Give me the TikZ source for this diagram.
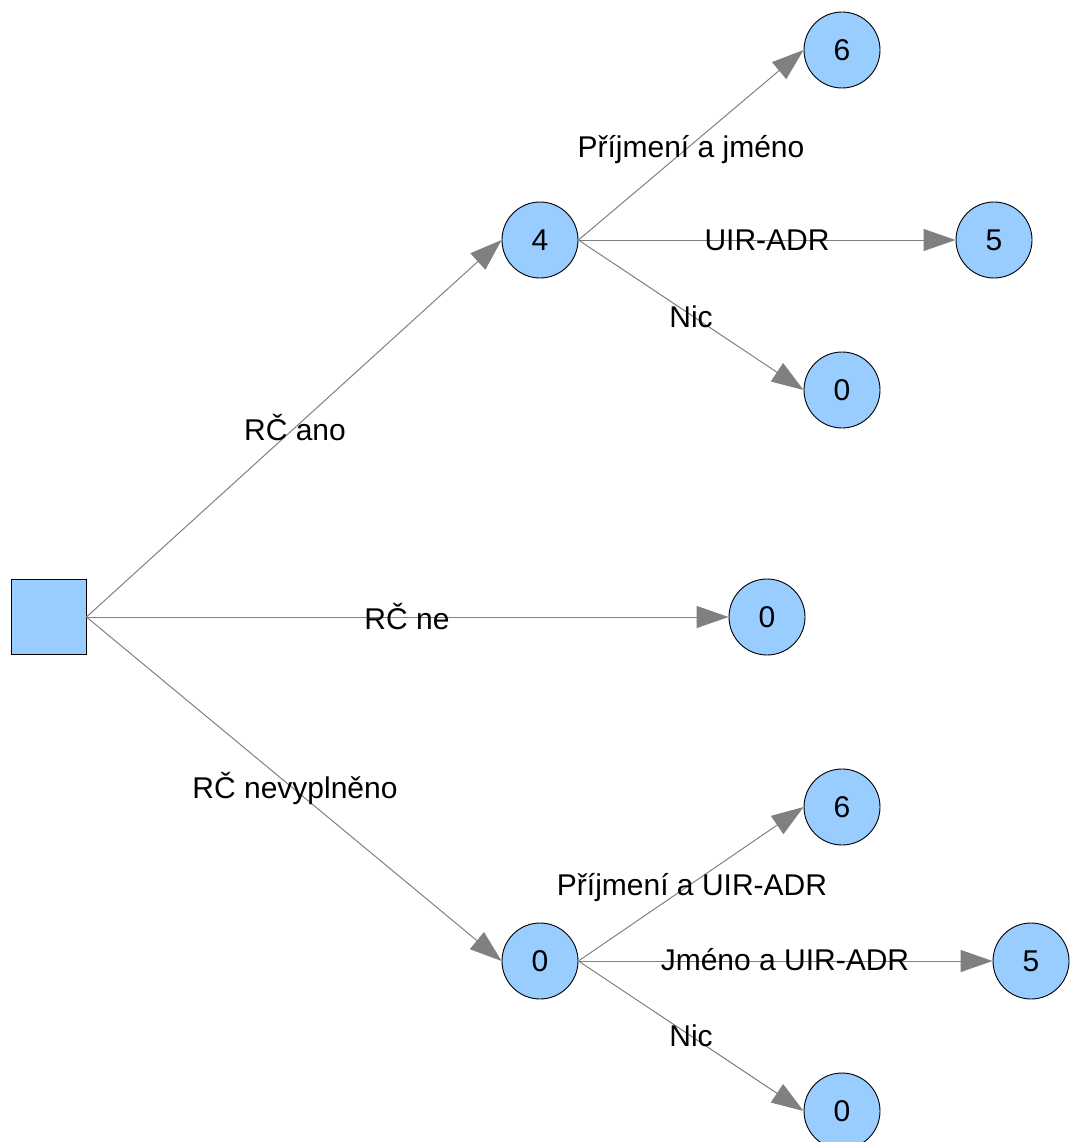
\documentclass[tikz,border=0pt]{standalone}
\usepackage{fontspec}
\setmainfont{Liberation Sans}
\usetikzlibrary{arrows.meta}
\definecolor{nodeblue}{HTML}{99CCFF}
\definecolor{edgegray}{HTML}{808080}
\begin{document}
\begin{tikzpicture}[x=1pt,y=-1pt,
  every node/.style={font=\fontsize{30pt}{36pt}\selectfont},
  state/.style={circle,draw=black,line width=0.9pt,fill=nodeblue,minimum size=76pt,inner sep=0pt},
  root/.style={rectangle,draw=black,line width=0.9pt,fill=nodeblue,minimum size=75pt,inner sep=0pt},
  edge/.style={draw=edgegray,line width=1pt,-{Triangle[length=32pt,width=22pt,fill=edgegray]}},
  lbl/.style={anchor=base,inner sep=0pt}]
\useasboundingbox (0,0) rectangle (1071,1142);
\node[root] (sq) at (48.5,617) {};
\node[state] (n4) at (540,240) {4};
\node[state] (n6a) at (842,50) {6};
\node[state] (n5a) at (994,240) {5};
\node[state] (n0a) at (842,390) {0};
\node[state] (n0m) at (767,617) {0};
\node[state] (n0b) at (540,961) {0};
\node[state] (n6b) at (842,807) {6};
\node[state] (n5b) at (1031,961) {5};
\node[state] (n0c) at (842,1111) {0};
\draw[edge] (sq.east) -- (n4.west);
\draw[edge] (sq.east) -- (n0m.west);
\draw[edge] (sq.east) -- (n0b.west);
\draw[edge] (n4.east) -- (n6a.west);
\draw[edge] (n4.east) -- (n5a.west);
\draw[edge] (n4.east) -- (n0a.west);
\draw[edge] (n0b.east) -- (n6b.west);
\draw[edge] (n0b.east) -- (n5b.west);
\draw[edge] (n0b.east) -- (n0c.west);
\node[lbl] (l1) at (691,158) {Příjmení a jméno};
\node[lbl] (l2) at (767,250) {UIR-ADR};
\node[lbl] (l3) at (691,327) {Nic};
\node[lbl] (l4) at (295,440) {RČ ano};
\node[lbl] (l5) at (407,629) {RČ ne};
\node[lbl] (l6) at (295,798) {RČ nevyplněno};
\node[lbl] (l7) at (692,895) {Příjmení a UIR-ADR};
\node[lbl] (l8) at (785,970) {Jméno a UIR-ADR};
\node[lbl] (l9) at (691,1046) {Nic};
\end{tikzpicture}
\end{document}
